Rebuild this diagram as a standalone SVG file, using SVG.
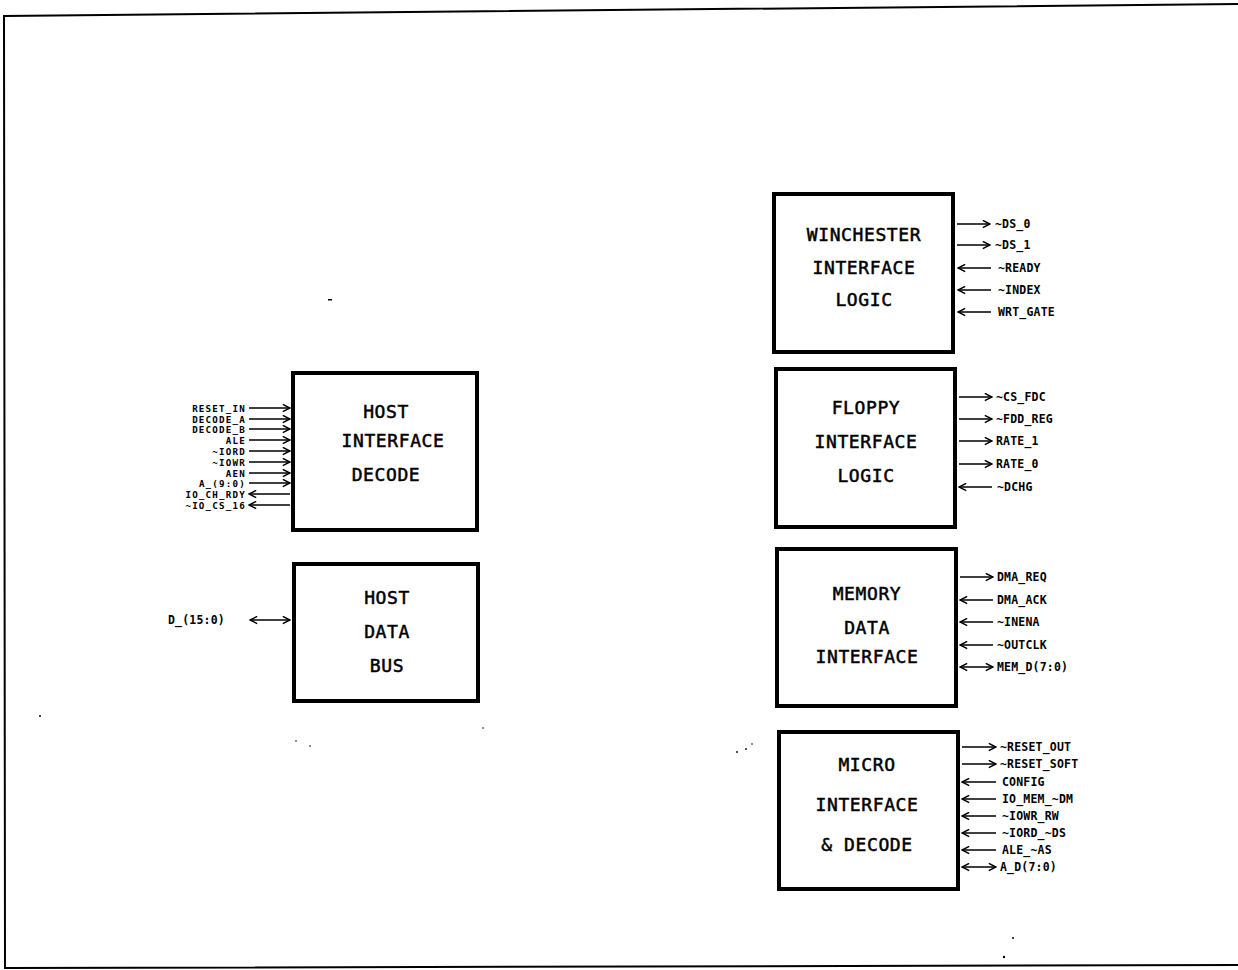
<svg xmlns="http://www.w3.org/2000/svg" width="1238" height="970" viewBox="0 0 1238 970">
<defs>
<marker id="ah" viewBox="0 0 10 10" refX="9" refY="5" markerWidth="9" markerHeight="9" markerUnits="userSpaceOnUse" orient="auto-start-reverse">
<path d="M1,1 L9,5 L1,9" fill="none" stroke="#000" stroke-width="1.7"/>
</marker>
<style>
.box{fill:#fff;stroke:#000;stroke-width:4}
.t{font-family:"DejaVu Sans Mono","Liberation Mono",monospace;font-size:18px;text-anchor:middle;fill:#000;stroke:#000;stroke-width:0.5;letter-spacing:0.6px}
.s{font-family:"DejaVu Sans Mono","Liberation Mono",monospace;font-size:11.5px;font-weight:bold;fill:#000;letter-spacing:0.2px}
.l{font-family:"DejaVu Sans Mono","Liberation Mono",monospace;font-size:9.2px;font-weight:bold;fill:#000;text-anchor:end;letter-spacing:1.2px}
.w{stroke:#000;stroke-width:1.5;fill:none}
.o{marker-end:url(#ah)}
.i{marker-start:url(#ah)}
.b{marker-start:url(#ah);marker-end:url(#ah)}
</style>
</defs>
<rect width="1238" height="970" fill="#fff"/>
<g id="border" fill="none" stroke="#000" stroke-width="2">
<path d="M1238,4 L4,16 L5,968 L1238,965"/>
</g>
<g id="marks" fill="#000">
<rect x="328" y="299" width="4" height="1.5"/>
<circle cx="40" cy="716" r="1"/>
<circle cx="296" cy="741" r="0.8"/>
<circle cx="310" cy="746" r="0.8"/>
<circle cx="483" cy="728" r="0.8"/>
<circle cx="737" cy="752" r="0.9"/>
<circle cx="746" cy="749" r="0.9"/>
<circle cx="752" cy="744" r="0.8"/>
<circle cx="1013" cy="938" r="1"/>
<circle cx="1004" cy="957" r="1.2"/>
</g>
<g id="host-interface-decode">
<rect class="box" x="293" y="373" width="184" height="157"/>
<text class="t" x="386" y="418">HOST</text>
<text class="t" x="393" y="447">INTERFACE</text>
<text class="t" x="386" y="481">DECODE</text>
</g>
<g id="host-data-bus">
<rect class="box" x="294" y="564" width="184" height="137"/>
<text class="t" x="387" y="604">HOST</text>
<text class="t" x="387" y="638">DATA</text>
<text class="t" x="387" y="672">BUS</text>
</g>
<g id="winchester">
<rect class="box" x="774" y="194" width="179" height="158"/>
<text class="t" x="864" y="241">WINCHESTER</text>
<text class="t" x="864" y="274">INTERFACE</text>
<text class="t" x="864" y="306">LOGIC</text>
</g>
<g id="floppy">
<rect class="box" x="776" y="369" width="179" height="158"/>
<text class="t" x="866" y="414">FLOPPY</text>
<text class="t" x="866" y="448">INTERFACE</text>
<text class="t" x="866" y="482">LOGIC</text>
</g>
<g id="memory">
<rect class="box" x="777" y="549" width="179" height="157"/>
<text class="t" x="867" y="600">MEMORY</text>
<text class="t" x="867" y="634">DATA</text>
<text class="t" x="867" y="663">INTERFACE</text>
</g>
<g id="micro">
<rect class="box" x="779" y="732" width="179" height="157"/>
<text class="t" x="867" y="771">MICRO</text>
<text class="t" x="867" y="811">INTERFACE</text>
<text class="t" x="867" y="851">&amp; DECODE</text>
</g>
<g id="connectors">
<path class="w o" d="M249,408 H290"/>
<path class="w o" d="M249,419 H290"/>
<path class="w o" d="M249,429 H290"/>
<path class="w o" d="M249,440 H290"/>
<path class="w o" d="M249,451 H290"/>
<path class="w o" d="M249,462 H290"/>
<path class="w o" d="M249,473 H290"/>
<path class="w o" d="M249,483 H290"/>
<path class="w i" d="M249,494 H290"/>
<path class="w i" d="M249,505 H290"/>
<path class="w b" d="M250,620 H290"/>
<path class="w o" d="M957,224 H990"/>
<path class="w o" d="M957,245 H990"/>
<path class="w i" d="M958,268 H991"/>
<path class="w i" d="M958,290 H991"/>
<path class="w i" d="M958,312 H991"/>
<path class="w o" d="M959,397 H992"/>
<path class="w o" d="M959,419 H992"/>
<path class="w o" d="M959,441 H992"/>
<path class="w o" d="M959,464 H992"/>
<path class="w i" d="M959,487 H992"/>
<path class="w o" d="M960,577 H993"/>
<path class="w i" d="M960,600 H993"/>
<path class="w i" d="M960,622 H993"/>
<path class="w i" d="M960,645 H993"/>
<path class="w b" d="M960,667 H993"/>
<path class="w o" d="M962,747 H996"/>
<path class="w o" d="M962,764 H996"/>
<path class="w i" d="M962,782 H996"/>
<path class="w i" d="M962,799 H996"/>
<path class="w i" d="M962,816 H996"/>
<path class="w i" d="M962,833 H996"/>
<path class="w i" d="M962,850 H996"/>
<path class="w b" d="M962,867 H996"/>
</g>
<g id="labels">
<text class="l" x="246" y="411.5">RESET_IN</text>
<text class="l" x="246" y="422.5">DECODE_A</text>
<text class="l" x="246" y="432.5">DECODE_B</text>
<text class="l" x="246" y="443.5">ALE</text>
<text class="l" x="246" y="454.5">~IORD</text>
<text class="l" x="246" y="465.5">~IOWR</text>
<text class="l" x="246" y="476.5">AEN</text>
<text class="l" x="246" y="486.5">A_(9:0)</text>
<text class="l" x="246" y="497.5">IO_CH_RDY</text>
<text class="l" x="246" y="508.5">~IO_CS_16</text>
<text class="s" x="168" y="624">D_(15:0)</text>
<text class="s" x="995" y="228">~DS_0</text>
<text class="s" x="995" y="249">~DS_1</text>
<text class="s" x="998" y="272">~READY</text>
<text class="s" x="998" y="294">~INDEX</text>
<text class="s" x="998" y="316">WRT_GATE</text>
<text class="s" x="996" y="401">~CS_FDC</text>
<text class="s" x="996" y="423">~FDD_REG</text>
<text class="s" x="996" y="445">RATE_1</text>
<text class="s" x="996" y="468">RATE_0</text>
<text class="s" x="997" y="491">~DCHG</text>
<text class="s" x="997" y="581">DMA_REQ</text>
<text class="s" x="997" y="604">DMA_ACK</text>
<text class="s" x="997" y="626">~INENA</text>
<text class="s" x="997" y="649">~OUTCLK</text>
<text class="s" x="997" y="671">MEM_D(7:0)</text>
<text class="s" x="1000" y="751">~RESET_OUT</text>
<text class="s" x="1000" y="768">~RESET_SOFT</text>
<text class="s" x="1002" y="786">CONFIG</text>
<text class="s" x="1002" y="803">IO_MEM_~DM</text>
<text class="s" x="1002" y="820">~IOWR_RW</text>
<text class="s" x="1002" y="837">~IORD_~DS</text>
<text class="s" x="1002" y="854">ALE_~AS</text>
<text class="s" x="1000" y="871">A_D(7:0)</text>
</g>
</svg>
